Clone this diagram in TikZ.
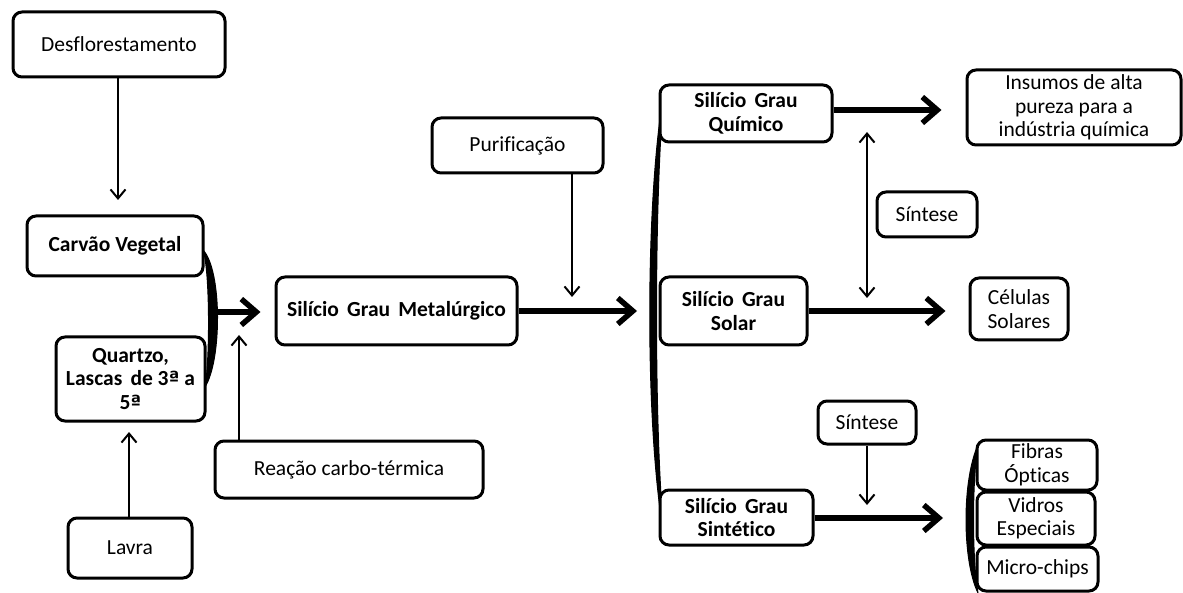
\documentclass[tikz,border=0pt]{standalone}
\usepackage{fontspec}
\setmainfont[Ligatures=CommonOff]{Carlito}
\newfontfamily\ordfont[Scale=0.9]{DejaVu Sans}
\usetikzlibrary{arrows.meta}
\newcommand\wsp{\hspace{0.38em}}
\newcommand\orda{{\ordfont\bfseries ª}}
\begin{document}
\begin{tikzpicture}[x=1pt,y=-1pt,
  bx/.style={draw, line width=3pt, rounded corners=9pt, fill=white, align=center, inner sep=0pt,
    font=\fontsize{21.5}{23.5}\selectfont},
  bxb/.style={bx, font=\fontsize{21.5}{23.5}\selectfont\bfseries},
  sz/.style 2 args={minimum width=#1pt, minimum height=#2pt},
  thinarr/.style={line width=2pt, -{Straight Barb[length=9pt,width=15pt]}},
  dblarr/.style={line width=2pt, {Straight Barb[length=9pt,width=15pt]}-{Straight Barb[length=9pt,width=15pt]}},
  thickarr/.style={line width=5.5pt, -{Straight Barb[length=15pt,width=26pt]}},
  bracefill/.style={fill=black, draw=black, line width=1pt, line join=round}]
\useasboundingbox (0,0) rectangle (1183,593);

% braces
\fill[bracefill] (203,250) .. controls (222,270) and (222,360) .. (205,387)
   .. controls (210,360) and (210,270) .. (203,250) -- cycle;
\fill[bracefill] (664,92) .. controls (645,200) and (645,430) .. (664,535)
   .. controls (654,430) and (654,200) .. (664,92) -- cycle;
\fill[bracefill] (978,445) .. controls (962,480) and (962,560) .. (978,593)
   .. controls (972,560) and (972,480) .. (978,445) -- cycle;

% nodes
\node[bx, sz={212}{65}] (des) at (119,44.5) {Desflorestamento};
\node[bxb, sz={176}{60}] (carvao) at (115,246) {Carvão Vegetal};
\node[bxb, sz={149}{84}] (quartzo) at (130.5,379) {Quartzo,\\Lascas\wsp de 3\orda{} a\\5\orda};
\node[bx, sz={124}{60}] (lavra) at (130,548) {Lavra};
\node[bx, sz={268}{57}] (reacao) at (349,469.5) {Reação carbo-térmica};
\node[bxb, sz={241}{68}] (metal) at (396.5,311) {Silício\wsp Grau\wsp Metalúrgico};
\node[bx, sz={171}{55}] (purif) at (517.5,145.5) {Purificação};
\node[bxb, sz={172}{57}] (quim) at (746,113.5) {Silício\wsp Grau\\Químico};
\node[bxb, sz={147}{68}] (solar) at (733.5,311) {Silício\wsp Grau\\Solar};
\node[bxb, sz={153}{55}] (sint) at (736.5,517.5) {Silício\wsp Grau\\Sintético};
\node[bx, sz={214}{75}] (insumos) at (1074,107.5) {Insumos de alta\\pureza para a\\indústria química};
\node[bx, sz={100}{45}] (sintese1) at (927,214.5) {Síntese};
\node[bx, sz={98}{62}] (celulas) at (1019,309) {Células\\Solares};
\node[bx, sz={98}{43}] (sintese2) at (867,422.5) {Síntese};
\node[bx, sz={120}{50}] (fibras) at (1037,465) {Fibras\\Ópticas};
\node[bx, sz={118}{53}] (vidros) at (1036,518.5) {Vidros\\Especiais};
\node[bx, sz={121}{44}] (micro) at (1037.5,569) {Micro-chips};

% coordinates for free ends
\coordinate (rtip) at (239,335);
\coordinate (lb) at (217,312);
\coordinate (ptip) at (572,297);
\coordinate (bigb) at (651,311);
\coordinate (da1) at (867,132);
\coordinate (da2) at (867,298);
\coordinate (s2tip) at (867,505);
\coordinate (rb) at (966,518);

% connectors
\draw[thinarr, shorten >=17pt] (des.south -| 118,0) -- (118,217);
\draw[thinarr, shorten >=11pt] (lavra.north -| 129,0) -- (129,421);
\draw[thinarr] (reacao.north -| rtip) -- (rtip);
\draw[thinarr] (purif.south -| ptip) -- (ptip);
\draw[dblarr] (da1) -- (da2);
\draw[thinarr] (sintese2.south -| s2tip) -- (s2tip);
\draw[thickarr, shorten >=14pt] (lb) -- (metal.west |- lb);
\draw[thickarr, shorten >=14pt] (metal.east |- bigb) -- (bigb);
\draw[thickarr, shorten >=24pt] (quim.east |- 0,110) -- (insumos.west |- 0,110);
\draw[thickarr, shorten >=23pt] (solar.east |- 0,311) -- (celulas.west |- 0,311);
\draw[thickarr, shorten >=23pt] (sint.east |- rb) -- (rb);
\end{tikzpicture}
\end{document}
